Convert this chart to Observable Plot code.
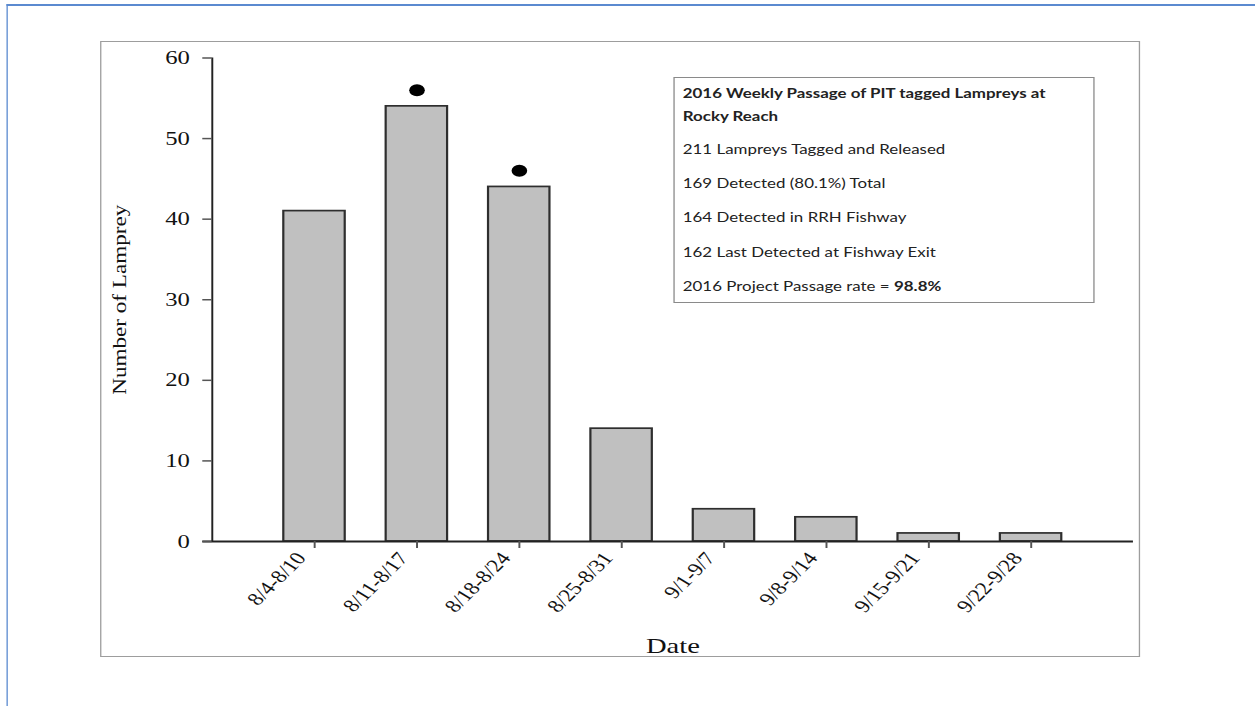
<!DOCTYPE html>
<html><head><meta charset="utf-8">
<script src="https://cdn.jsdelivr.net/npm/d3@7"></script>
<script src="https://cdn.jsdelivr.net/npm/@observablehq/plot@0.6"></script>
<style>
html,body{margin:0;padding:0;background:#fff;overflow:hidden;width:1255px;height:706px}
#wrap{position:absolute;left:0;top:0;width:965.4px;height:706px;transform:scaleX(1.3);transform-origin:0 0}
#blue{position:absolute;left:4.6px;top:3.5px;width:1000px;height:800px;border-top:2px solid #5b8ad0;border-left:1.6px solid #5b8ad0}
#frame{position:absolute;left:76.9px;top:41px;width:800px;height:616px;box-sizing:border-box;border:1.5px solid #9d9d9d}
#chart{position:absolute;left:0;top:0}
#legend{position:absolute;left:517.5px;top:77.3px;width:324.8px;height:225.7px;box-sizing:border-box;border:1px solid #8a8a8a;padding:3.5px 0 0 6.7px;font-family:Lato,'Noto Sans',sans-serif;font-size:13px;color:#222}
#legend .t{line-height:23px;font-weight:bold}
#legend .l{line-height:34.3px}
#legend .first{margin-top:4px}
</style>
</head><body>
<div id="wrap">
  <div id="blue"></div>
  <div id="frame"></div>
  <div id="chart"></div>
  <div id="legend"></div>
</div>
<script>
const weeks = ["8/4-8/10","8/11-8/17","8/18-8/24","8/25-8/31","9/1-9/7","9/8-9/14","9/15-9/21","9/22-9/28"];
const counts = [41,54,44,14,4,3,1,1];
const markerWeeks = ["8/11-8/17","8/18-8/24"];
const markerValues = [56,46];
const yTicks = [0,10,20,30,40,50,60];
const xLabel = "Date";
const yLabel = "Number of Lamprey";
const legendTitleLines = ["2016 Weekly Passage of PIT tagged Lampreys at","Rocky Reach"];
const legendLines = ["211 Lampreys Tagged and Released","169 Detected (80.1%) Total","164 Detected in RRH Fishway","162 Last Detected at Fishway Exit"];
const legendRateText = "2016 Project Passage rate = ";
const legendRateValue = "98.8%";

const bars = weeks.map((w,i)=>({week:w,pos:i+1,count:counts[i]}));
const markers = markerWeeks.map((w,i)=>({pos: weeks.indexOf(w)+1, value: markerValues[i]}));
const half = 0.3;
const W = 1255/1.3;

const chart = Plot.plot({
  width: W, height: 706,
  marginLeft: 162.8, marginRight: W - 871.5, marginTop: 57.5, marginBottom: 165,
  style: {fontFamily: "'Liberation Serif','Times New Roman',serif", background: "transparent", color: "#111", overflow: "visible"},
  x: {type: "linear", domain: [0, weeks.length + 1]},
  y: {domain: [0, 60]},
  marks: [
    Plot.rectY(bars, {x1: d=>d.pos-half, x2: d=>d.pos+half, y1: 0, y2: "count", fill: "#c0c0c0", stroke: "#2e2e2e", strokeWidth: 1.7}),
    Plot.dot(markers, {x:"pos", y:"value", r: 6, fill:"#000", stroke: "none"}),
    Plot.ruleX([0], {stroke:"#222", strokeWidth:1.5}),
    Plot.ruleY([0], {stroke:"#222", strokeWidth:2, insetLeft:-7.2}),
    Plot.axisY({ticks: yTicks, tickSize: 7.2, tickPadding: 10, fontSize: 19, stroke: "#555", strokeWidth: 1.5, fill: "#111", label: null}),
    Plot.axisX({ticks: bars.map(d=>d.pos), tickFormat: () => "", tickSize: 7, stroke: "#555", strokeWidth: 1.5, label: null}),
    Plot.text(bars, {x: "pos", text: "week", frameAnchor: "bottom", rotate: -52, textAnchor: "end", dx: -6, dy: 17, fontSize: 18, fill: "#111"}),
    Plot.text([xLabel], {text: d=>d, frameAnchor:"bottom", dy:112, lineAnchor:"bottom", fontSize:22, fill:"#111"}),
    Plot.text([yLabel], {text: d=>d, frameAnchor:"left", dx:-70.5, dy: 95, rotate:-90, textAnchor: "start", fontSize:14, fill:"#111"})
  ]
});
d3.select(chart).selectAll("text").filter(function(){return this.textContent === yLabel;})
  .attr("textLength", 190).attr("lengthAdjust", "spacingAndGlyphs");
document.getElementById("chart").appendChild(chart);

const leg = d3.select("#legend");
legendTitleLines.forEach(t => leg.append("div").attr("class","t").text(t));
legendLines.forEach((t,i) => leg.append("div").attr("class", i===0 ? "l first" : "l").text(t));
const last = leg.append("div").attr("class","l");
last.append("span").text(legendRateText);
last.append("b").text(legendRateValue);
</script>
</body></html>
